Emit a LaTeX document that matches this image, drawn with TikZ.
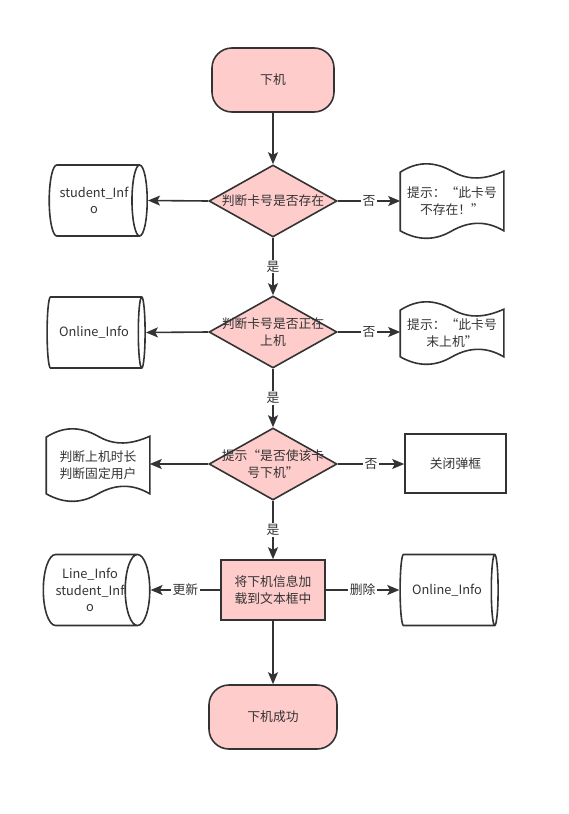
\documentclass[tikz,border=0pt]{standalone}
\usepackage{fontspec}
\setmainfont{Noto Sans CJK SC}
\usetikzlibrary{shapes.geometric,arrows.meta,calc}

\definecolor{rosa}{HTML}{FFCCCC}
\definecolor{borde}{HTML}{333333}

\tikzset{
  base/.style={draw=borde, line width=1.2pt, text=borde, align=center, inner sep=0pt,
    font=\fontsize{9.6}{12.5}\selectfont},
  terminal/.style={base, fill=rosa, rectangle, rounded corners=15pt, minimum height=48pt},
  decision/.style={base, fill=rosa, diamond, minimum width=96pt, minimum height=54pt},
  proceso/.style={base, fill=rosa, rectangle, minimum width=78pt, minimum height=45pt},
  caja/.style={base, rectangle, minimum width=75.75pt, minimum height=44.25pt},
  datos/.style={base, cylinder, shape aspect=0.56, minimum width=53.25pt, minimum height=73.5pt},
  cinta/.style={base, draw=none, rectangle, minimum width=76.5pt},
  texto/.style={text=borde, align=center, font=\fontsize{9.6}{12.5}\selectfont},
  flecha/.style={draw=borde, line width=1.2pt, -{Stealth[length=9pt,width=7.5pt,inset=2pt]}},
  etiqueta/.style={fill=white, text=borde, inner sep=1pt, font=\fontsize{9.6}{12}\selectfont}
}

% Borde ondulado de una cinta (ancho 102)
\newcommand\cinta[1]{%
  \draw[draw=borde, line width=1.2pt]
    ($(#1.north west)+(0,8)$)
      .. controls ($(#1.north west)+(17,-3)$) and ($(#1.north west)+(34,-3)$) .. ($(#1.north)+(0,7)$)
      .. controls ($(#1.north)+(17,17)$) and ($(#1.north)+(34,15)$) .. ($(#1.north east)+(0,7)$)
    -- ($(#1.south east)+(0,-7)$)
      .. controls ($(#1.south east)+(-17,-17)$) and ($(#1.south east)+(-34,-17)$) .. ($(#1.south)+(0,-7)$)
      .. controls ($(#1.south)+(-17,3)$) and ($(#1.south)+(-34,3)$) .. ($(#1.south west)+(0,-7)$)
    -- cycle;}

\begin{document}
\begin{tikzpicture}[x=0.75pt,y=-0.75pt]
\useasboundingbox (0,0) rectangle (568,814);

% Inicio
\node[terminal, minimum width=91.5pt] (inicio) at (273,80) {下机};

% Decisiones
\node[decision] (d1) at (273,201) {};
\node[texto] (d1t) at (d1) {判断卡号是否存在};
\node[decision] (d2) at (273,332) {};
\node[texto] (d2t) at (d2) {判断卡号是否正在\\上机};
\node[decision] (d3) at (273,464) {};
\node[texto] (d3t) at (d3) {提示“是否使该卡\\号下机”};

% Datos
\node[datos] (tabla1) at (94,200.5) {student\_Inf\\o};
\node[datos] (tabla2) at (94,332.5) {Online\_Info};
\node[datos, minimum height=70.5pt] (tabla3) at (90,590) {Line\_Info\\student\_Inf\\o};
\node[datos] (tabla4) at (447,590) {Online\_Info};

% Avisos
\node[cinta, minimum height=54pt] (aviso1) at (452,201) {提示：“此卡号\\不存在！”};
\node[cinta, minimum height=45pt] (aviso2) at (452,333) {提示：“此卡号\\末上机”};
\node[cinta, minimum height=52.5pt] (aviso3) at (98,465) {判断上机时长\\判断固定用户};
\cinta{aviso1}
\cinta{aviso2}
\cinta{aviso3}

\node[caja] (cerrar) at (455.5,463.5) {关闭弹框};
\node[proceso] (cargar) at (273,590) {将下机信息加\\载到文本框中};

% Fin
\node[terminal, minimum width=96pt] (fin) at (273,717) {下机成功};

% Flechas
\draw[flecha] (inicio) -- (d1);
\draw[flecha] (d1.west) -- (tabla1.east);
\draw[flecha] (d1.east) -- node[etiqueta] {否} (aviso1.west);
\draw[flecha] (d1.south) -- node[etiqueta] {是} (d2.north);
\draw[flecha] (d2.west) -- (tabla2.east);
\draw[flecha] (d2.east) -- node[etiqueta] {否} (aviso2.west |- d2.east);
\draw[flecha] (d2.south) -- node[etiqueta] {是} (d3.north);
\draw[flecha] (d3.west) -- (aviso3.east |- d3.west);
\draw[flecha] (d3.east) -- node[etiqueta] {否} (cerrar.west |- d3.east);
\draw[flecha] (d3.south) -- node[etiqueta] {是} (cargar.north);
\draw[flecha] (cargar.west) -- node[etiqueta] {更新} (tabla3.east);
\draw[flecha] (cargar.east) -- node[etiqueta] {删除} (tabla4.west);
\draw[flecha] (cargar) -- (fin);
\end{tikzpicture}
\end{document}
